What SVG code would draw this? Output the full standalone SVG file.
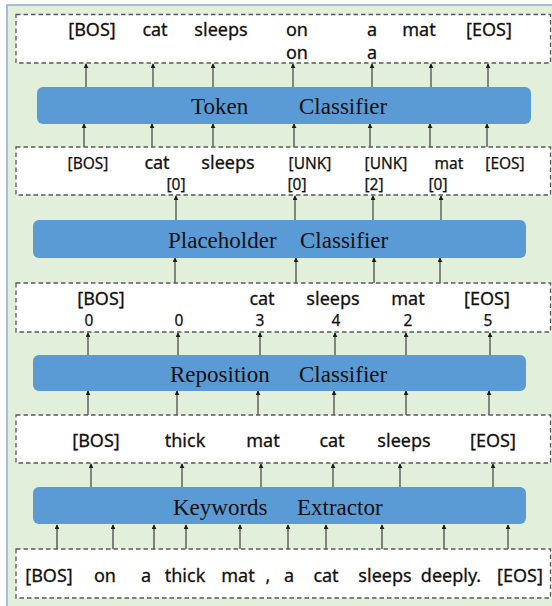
<svg xmlns="http://www.w3.org/2000/svg" width="552" height="606" viewBox="0 0 552 606">
<defs>
<style>
.bg{fill:#e2efda;stroke:#8faadc;stroke-width:1.5}
.box{fill:#ffffff;stroke:#595959;stroke-width:1.3;stroke-dasharray:4.5 3}
.bar{fill:#5b9bd5}
.bt{font-family:"Liberation Serif","Times New Roman",serif;font-size:23px;fill:#111111}
.tk{font-family:"Noto Sans","Liberation Sans",sans-serif;font-size:18px;fill:#111111;stroke:#111111;stroke-width:0.3;text-anchor:middle}
.sm{font-family:"Noto Sans","Liberation Sans",sans-serif;font-size:15.5px;fill:#111111;stroke:#111111;stroke-width:0.25;text-anchor:middle}
.ar{stroke:#404040;stroke-width:1.2;fill:none;marker-end:url(#ah)}
.ag{stroke:#767171;stroke-width:1.8;fill:none;marker-end:url(#ah)}
</style>
<marker id="ah" viewBox="0 0 6 6" refX="5" refY="3" markerWidth="5" markerHeight="5" markerUnits="userSpaceOnUse" orient="auto">
<path d="M0,0 L6,3 L0,6 z" fill="#1a1a1a"/>
</marker>
</defs>
<rect class="bg" x="7" y="5" width="560" height="620"/>

<g id="connectors">
<line class="ar" x1="86" y1="87" x2="86" y2="64"/>
<line class="ar" x1="153" y1="87" x2="153" y2="64"/>
<line class="ar" x1="213" y1="87" x2="213" y2="64"/>
<line class="ar" x1="293" y1="87" x2="293" y2="64"/>
<line class="ar" x1="372" y1="87" x2="372" y2="64"/>
<line class="ar" x1="431" y1="87" x2="431" y2="64"/>
<line class="ar" x1="488" y1="87" x2="488" y2="64"/>
<line class="ar" x1="84" y1="147" x2="84" y2="124"/>
<line class="ar" x1="152" y1="147" x2="152" y2="124"/>
<line class="ar" x1="213" y1="147" x2="213" y2="124"/>
<line class="ar" x1="294" y1="147" x2="294" y2="124"/>
<line class="ar" x1="370" y1="147" x2="370" y2="124"/>
<line class="ar" x1="430" y1="147" x2="430" y2="124"/>
<line class="ar" x1="487" y1="147" x2="487" y2="124"/>
<line class="ar" x1="176" y1="220" x2="176" y2="196"/>
<line class="ar" x1="295" y1="220" x2="295" y2="196"/>
<line class="ar" x1="373" y1="220" x2="373" y2="196"/>
<line class="ar" x1="441" y1="220" x2="441" y2="196"/>
<line class="ar" x1="175" y1="283" x2="175" y2="258"/>
<line class="ar" x1="296" y1="283" x2="296" y2="258"/>
<line class="ar" x1="374" y1="283" x2="374" y2="258"/>
<line class="ar" x1="440" y1="283" x2="440" y2="258"/>
<line class="ar" x1="88" y1="355" x2="88" y2="333"/>
<line class="ar" x1="178" y1="355" x2="178" y2="333"/>
<line class="ar" x1="260" y1="355" x2="260" y2="333"/>
<line class="ar" x1="335" y1="355" x2="335" y2="333"/>
<line class="ar" x1="406" y1="355" x2="406" y2="333"/>
<line class="ar" x1="490" y1="355" x2="490" y2="333"/>
<line class="ar" x1="88" y1="415" x2="88" y2="391"/>
<line class="ar" x1="177" y1="415" x2="177" y2="391"/>
<line class="ar" x1="258" y1="415" x2="258" y2="391"/>
<line class="ar" x1="334" y1="415" x2="334" y2="391"/>
<line class="ar" x1="406" y1="415" x2="406" y2="391"/>
<line class="ar" x1="489" y1="415" x2="489" y2="391"/>
<line class="ar" x1="91" y1="487" x2="91" y2="464"/>
<line class="ar" x1="182" y1="487" x2="182" y2="464"/>
<line class="ar" x1="261" y1="487" x2="261" y2="464"/>
<line class="ar" x1="333" y1="487" x2="333" y2="464"/>
<line class="ar" x1="400" y1="487" x2="400" y2="464"/>
<line class="ar" x1="493" y1="487" x2="493" y2="464"/>
<line class="ag" x1="57" y1="549" x2="57" y2="525"/>
<line class="ag" x1="113" y1="549" x2="113" y2="525"/>
<line class="ag" x1="154" y1="549" x2="154" y2="525"/>
<line class="ar" x1="186" y1="549" x2="186" y2="525"/>
<line class="ar" x1="240" y1="549" x2="240" y2="525"/>
<line class="ar" x1="288" y1="549" x2="288" y2="525"/>
<line class="ar" x1="326" y1="549" x2="326" y2="525"/>
<line class="ag" x1="382" y1="549" x2="382" y2="525"/>
<line class="ag" x1="444" y1="549" x2="444" y2="525"/>
<line class="ar" x1="508" y1="549" x2="508" y2="525"/>
</g>

<g id="output-tokens">
<rect class="box" x="16" y="14.5" width="534.5" height="48.5"/>
<text class="tk" x="92" y="36">[BOS]</text>
<text class="tk" x="155" y="36">cat</text>
<text class="tk" x="221" y="36">sleeps</text>
<text class="tk" x="297" y="36">on</text>
<text class="tk" x="372" y="36">a</text>
<text class="tk" x="419" y="36">mat</text>
<text class="tk" x="489" y="36">[EOS]</text>
<text class="tk" x="297" y="59">on</text>
<text class="tk" x="372" y="59">a</text>
</g>

<g id="token-classifier">
<rect class="bar" x="37" y="87" width="494" height="37" rx="6"/>
<text class="bt" y="114"><tspan x="191">Token</tspan><tspan x="299">Classifier</tspan></text>
</g>

<g id="placeholder-tokens">
<rect class="box" x="16" y="147" width="534.5" height="48"/>
<text class="sm" x="88" y="169">[BOS]</text>
<text class="tk" x="157" y="169">cat</text>
<text class="tk" x="228" y="169">sleeps</text>
<text class="sm" x="310" y="169">[UNK]</text>
<text class="sm" x="386" y="169">[UNK]</text>
<text class="sm" x="449" y="169">mat</text>
<text class="sm" x="505" y="169">[EOS]</text>
<text class="sm" x="176" y="190">[0]</text>
<text class="sm" x="297" y="190">[0]</text>
<text class="sm" x="374" y="190">[2]</text>
<text class="sm" x="438" y="190">[0]</text>
</g>

<g id="placeholder-classifier">
<rect class="bar" x="33" y="220" width="493" height="38" rx="6"/>
<text class="bt" y="248"><tspan x="168">Placeholder</tspan><tspan x="300">Classifier</tspan></text>
</g>

<g id="reposition-tokens">
<rect class="box" x="16" y="283" width="534.5" height="49"/>
<text class="tk" x="101" y="305">[BOS]</text>
<text class="tk" x="262" y="305">cat</text>
<text class="tk" x="333" y="305">sleeps</text>
<text class="tk" x="408" y="305">mat</text>
<text class="tk" x="487" y="305">[EOS]</text>
<text class="sm" x="89" y="326">0</text>
<text class="sm" x="179" y="326">0</text>
<text class="sm" x="260" y="326">3</text>
<text class="sm" x="336" y="326">4</text>
<text class="sm" x="408" y="326">2</text>
<text class="sm" x="488" y="326">5</text>
</g>

<g id="reposition-classifier">
<rect class="bar" x="33" y="355" width="493" height="36" rx="6"/>
<text class="bt" y="382"><tspan x="170">Reposition</tspan><tspan x="299">Classifier</tspan></text>
</g>

<g id="keyword-tokens">
<rect class="box" x="16" y="415" width="534.5" height="48"/>
<text class="tk" x="96" y="447">[BOS]</text>
<text class="tk" x="185" y="447">thick</text>
<text class="tk" x="263" y="447">mat</text>
<text class="tk" x="332" y="447">cat</text>
<text class="tk" x="404" y="447">sleeps</text>
<text class="tk" x="493" y="447">[EOS]</text>
</g>

<g id="keywords-extractor">
<rect class="bar" x="33" y="487" width="493" height="37" rx="6"/>
<text class="bt" y="515"><tspan x="173">Keywords</tspan><tspan x="297">Extractor</tspan></text>
</g>

<g id="input-sentence">
<rect class="box" x="16" y="549" width="534.5" height="49"/>
<text class="tk" x="49" y="582">[BOS]</text>
<text class="tk" x="105" y="582">on</text>
<text class="tk" x="146" y="582">a</text>
<text class="tk" x="185" y="582">thick</text>
<text class="tk" x="238" y="582">mat</text>
<text class="tk" x="268" y="582">,</text>
<text class="tk" x="289" y="582">a</text>
<text class="tk" x="326" y="582">cat</text>
<text class="tk" x="385" y="582">sleeps</text>
<text class="tk" x="451" y="582">deeply.</text>
<text class="tk" x="520" y="582">[EOS]</text>
</g>
</svg>
